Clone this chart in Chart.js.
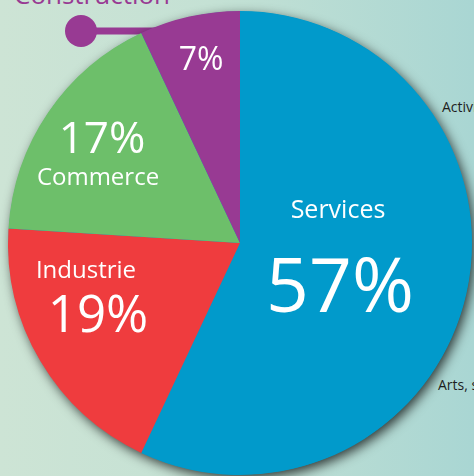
<!DOCTYPE html>
<html>
<head>
<meta charset="utf-8">
<script src="https://cdn.jsdelivr.net/npm/chart.js@4/dist/chart.umd.min.js"></script>
<style>
  html, body { margin:0; padding:0; }
  body { width:474px; height:476px; overflow:hidden; position:relative;
         background: linear-gradient(90deg, #cde4d5 0%, #c4e1d4 45%, #a9d6d3 100%);
         font-family: "Open Sans", sans-serif; }
  #wrap { position:absolute; left:0; top:0; width:474px; height:476px; }
  .side { position:absolute; font-size:14px; color:#1e1e1e; white-space:nowrap; line-height:1; }
  #title { position:absolute; left:14px; top:-19px; font-size:26px; color:#983a93; line-height:1; white-space:nowrap; }
</style>
</head>
<body>
<div id="title">Construction</div>
<div class="side" style="left:442px; top:100px;">Activités</div>
<div class="side" style="left:438px; top:378px;">Arts, spectacles</div>
<div id="wrap"><canvas id="c" width="474" height="476"></canvas></div>
<script>
const categories = ["Services", "Industrie", "Commerce", "Construction"];
const shares = [57, 19, 17, 7];
const percentLabels = ["57%", "19%", "17%", "7%"];
const colors = ["#019acb", "#ef3c3e", "#6dbf6a", "#983a93"];

const shadowPlugin = {
  id: 'shadowDisc',
  beforeDatasetsDraw(chart) {
    const arc = chart.getDatasetMeta(0).data[0];
    if (!arc) return;
    const ctx = chart.ctx;
    ctx.save();
    // connector line and dot for Construction
    ctx.strokeStyle = colors[3];
    ctx.lineWidth = 7;
    ctx.beginPath();
    ctx.moveTo(81, 31);
    ctx.lineTo(arc.x - 70, 31);
    ctx.stroke();
    ctx.fillStyle = colors[3];
    ctx.beginPath();
    ctx.arc(81, 31, 16, 0, Math.PI * 2);
    ctx.fill();
    // drop shadow under the pie
    ctx.shadowColor = 'rgba(0,0,0,0.75)';
    ctx.shadowBlur = 12;
    ctx.shadowOffsetX = 3;
    ctx.shadowOffsetY = 4;
    ctx.fillStyle = colors[0];
    ctx.beginPath();
    ctx.arc(arc.x, arc.y, arc.outerRadius - 0.5, 0, Math.PI * 2);
    ctx.fill();
    ctx.restore();
  }
};

const labelPlugin = {
  id: 'sliceLabels',
  afterDatasetsDraw(chart) {
    const arc = chart.getDatasetMeta(0).data[0];
    const cx = arc.x, cy = arc.y;
    const ctx = chart.ctx;
    ctx.save();
    ctx.fillStyle = '#ffffff';
    ctx.textAlign = 'center';
    ctx.textBaseline = 'alphabetic';
    const items = [
      [categories[0], 25, 98, -25],
      [percentLabels[0], 75, 100, 69],
      [categories[1], 24, -154, 35],
      [percentLabels[1], 51, -142, 89],
      [percentLabels[2], 44, -138, -90],
      [categories[2], 24, -142, -58],
      [percentLabels[3], 32, -39, -173]
    ];
    items.forEach(([t, size, dx, dy]) => {
      ctx.font = size + 'px "Open Sans"';
      ctx.fillText(t, cx + dx, cy + dy);
    });
    ctx.restore();
  }
};

new Chart(document.getElementById('c'), {
  type: 'pie',
  data: {
    labels: categories,
    datasets: [{
      data: shares,
      backgroundColor: colors,
      borderWidth: 0,
      hoverOffset: 0
    }]
  },
  options: {
    responsive: false,
    animation: false,
    layout: { padding: { left: 8, right: 2, top: 11, bottom: 1 } },
    plugins: { legend: { display: false }, tooltip: { enabled: false } },
    events: []
  },
  plugins: [shadowPlugin, labelPlugin]
});
</script>
</body>
</html>
